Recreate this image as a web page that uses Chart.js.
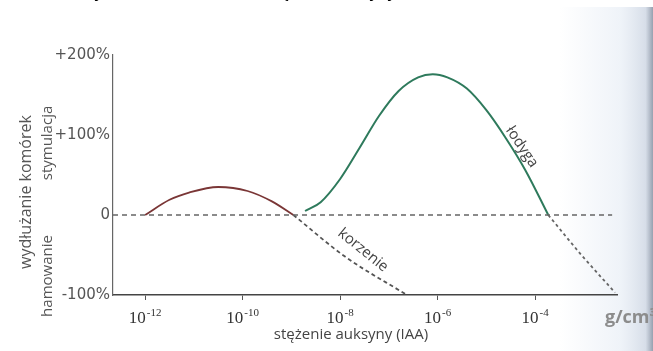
<!DOCTYPE html>
<html><head><meta charset="utf-8">
<script src="https://cdn.jsdelivr.net/npm/chart.js@4/dist/chart.umd.min.js"></script>
<style>html,body{margin:0;padding:0;background:#fff;overflow:hidden}</style>
</head><body><canvas id="c" width="653" height="351"></canvas>
<script>
// log10 of IAA concentration (g/cm3) on x, % change of cell elongation on y
const X_TICKS = [-12, -10, -8, -6, -4];
const X_TICK_EXP = ['-12', '-10', '-8', '-6', '-4'];
const Y_TICKS = [-100, 0, 100, 200];
const Y_TICK_LABELS = ['-100%', '0', '+100%', '+200%'];

const ROOT_SOLID_X = [-12, -11.5, -11.1, -10.5, -9.9, -9.4, -8.96];
const ROOT_SOLID_Y = [0, 19, 28, 35, 30, 17, 0];
const ROOT_DASH_X = [-8.96, -7.9, -6.63];
const ROOT_DASH_Y = [0, -52, -100];

const STEM_SOLID_X = [-8.72, -8.4, -8.0, -7.6, -7.2, -6.8, -6.4, -6.1, -5.8, -5.4, -5.0, -4.6, -4.2, -3.73];
const STEM_SOLID_Y = [5, 16, 45, 84, 124, 155, 172, 176, 172, 158, 131, 96, 56, 0];
const STEM_DASH_X = [-3.73, -3.05, -2.36];
const STEM_DASH_Y = [0, -50, -97];

const ZERO_X = [-12.66, -2.42];
const ZERO_Y = [0, 0];

const pts = (xs, ys) => xs.map((x, i) => ({x: x, y: ys[i]}));

const bgPlugin = {
  id: 'bg',
  beforeDraw(chart) {
    const ctx = chart.ctx;
    ctx.save();
    ctx.fillStyle = '#fff';
    ctx.fillRect(0, 0, chart.width, chart.height);
    const g = ctx.createLinearGradient(560, 0, 653, 0);
    g.addColorStop(0, 'rgba(228,235,244,0)');
    g.addColorStop(0.65, 'rgba(228,235,244,0.6)');
    g.addColorStop(0.92, 'rgba(210,218,230,0.9)');
    g.addColorStop(1, 'rgba(150,160,175,1)');
    ctx.fillStyle = g;
    ctx.fillRect(560, 7, 93, 344);
    // cut-off caption at the very top
    ctx.fillStyle = '#000';
    ctx.font = 'italic bold 16px "Open Sans"';
    ctx.textBaseline = 'alphabetic';
    ctx.textAlign = 'left';
    ctx.fillText('Zależność wydłużania komórek od stężenia auksyny', 6, -3);
    ctx.restore();
  }
};

const textPlugin = {
  id: 'texts',
  afterDraw(chart) {
    const ctx = chart.ctx;
    const xs = chart.scales.x, ys = chart.scales.y;
    ctx.save();
    // x tick labels 10^n
    X_TICKS.forEach((v, i) => {
      const px = xs.getPixelForValue(v);
      ctx.font = '17px "Liberation Serif"';
      const w1 = ctx.measureText('10').width;
      ctx.font = '11px "Liberation Serif"';
      const w2 = ctx.measureText(X_TICK_EXP[i]).width;
      const left = px - (w1 + w2 + 1) / 2;
      ctx.fillStyle = '#333';
      ctx.textAlign = 'left';
      ctx.textBaseline = 'alphabetic';
      ctx.font = '17px "Liberation Serif"';
      ctx.fillText('10', left, 323);
      ctx.font = '11px "Liberation Serif"';
      ctx.fillText(X_TICK_EXP[i], left + w1 + 1, 316);
    });
    // unit (cut off by the page edge)
    ctx.fillStyle = '#8c8c8c';
    ctx.font = 'bold 18px "Open Sans"';
    ctx.textAlign = 'left';
    ctx.fillText('g/cm³', 605, 323);
    // x title
    ctx.fillStyle = '#444';
    ctx.font = '15px "Open Sans"';
    ctx.textAlign = 'center';
    ctx.textBaseline = 'middle';
    ctx.fillText('stężenie auksyny (IAA)', 351, 335);
    // y titles
    const vtext = (t, x, y, font) => {
      ctx.save();
      ctx.translate(x, y);
      ctx.rotate(-Math.PI / 2);
      ctx.font = font;
      ctx.fillStyle = '#555';
      ctx.textAlign = 'center';
      ctx.textBaseline = 'middle';
      ctx.fillText(t, 0, 0);
      ctx.restore();
    };
    vtext('wydłużanie komórek', 26, 192, '16px "Open Sans"');
    vtext('stymulacja', 48, 143, '15px "Open Sans"');
    vtext('hamowanie', 48, 276, '15px "Open Sans"');
    // curve labels
    const rtext = (t, v, val, ang) => {
      ctx.save();
      ctx.translate(xs.getPixelForValue(v), ys.getPixelForValue(val));
      ctx.rotate(ang * Math.PI / 180);
      ctx.font = '15px "Open Sans"';
      ctx.fillStyle = '#444';
      ctx.textAlign = 'center';
      ctx.textBaseline = 'middle';
      ctx.fillText(t, 0, 0);
      ctx.restore();
    };
    rtext('korzenie', -7.53, -44, 39);
    rtext('łodyga', -4.27, 85, 56);
    ctx.restore();
  }
};

new Chart(document.getElementById('c'), {
  type: 'scatter',
  data: {
    datasets: [
      {data: pts(ZERO_X, ZERO_Y), showLine: true, borderColor: '#666', borderWidth: 1.3, borderDash: [5, 4], pointRadius: 0},
      {data: pts(ROOT_SOLID_X, ROOT_SOLID_Y), showLine: true, borderColor: '#7a3636', borderWidth: 1.8, pointRadius: 0, cubicInterpolationMode: 'monotone'},
      {data: pts(ROOT_DASH_X, ROOT_DASH_Y), showLine: true, borderColor: '#555', borderWidth: 1.8, borderDash: [4, 3], pointRadius: 0, cubicInterpolationMode: 'monotone'},
      {data: pts(STEM_SOLID_X, STEM_SOLID_Y), showLine: true, borderColor: '#2e7a5c', borderWidth: 2, pointRadius: 0, cubicInterpolationMode: 'monotone'},
      {data: pts(STEM_DASH_X, STEM_DASH_Y), showLine: true, borderColor: '#666', borderWidth: 1.8, borderDash: [3, 3], pointRadius: 0, cubicInterpolationMode: 'monotone'}
    ]
  },
  options: {
    responsive: false,
    animation: false,
    events: [],
    layout: {padding: {left: 0, top: 55, right: 36, bottom: 0}},
    plugins: {legend: {display: false}, tooltip: {enabled: false}},
    scales: {
      x: {
        type: 'linear', min: -12.66, max: -2.32,
        afterBuildTicks: s => { s.ticks = X_TICKS.map(v => ({value: v})); },
        afterFit: s => { s.height = 56; },
        ticks: {display: false},
        grid: {display: true, drawOnChartArea: false, drawTicks: true, tickLength: 5, color: '#555', lineWidth: 1},
        border: {display: true, color: '#444', width: 1.6}
      },
      y: {
        type: 'linear', min: -100, max: 200,
        afterBuildTicks: s => { s.ticks = Y_TICKS.map(v => ({value: v})); },
        afterFit: s => { s.width = 113; },
        ticks: {
          padding: 3, color: '#555', font: {family: 'DejaVu Sans', size: 15},
          callback: (v) => { const i = Y_TICKS.indexOf(v); return i >= 0 ? Y_TICK_LABELS[i] : ''; }
        },
        grid: {display: false, drawTicks: false},
        border: {display: true, color: '#666', width: 1.2}
      }
    }
  },
  plugins: [bgPlugin, textPlugin]
});
</script>
</body></html>
